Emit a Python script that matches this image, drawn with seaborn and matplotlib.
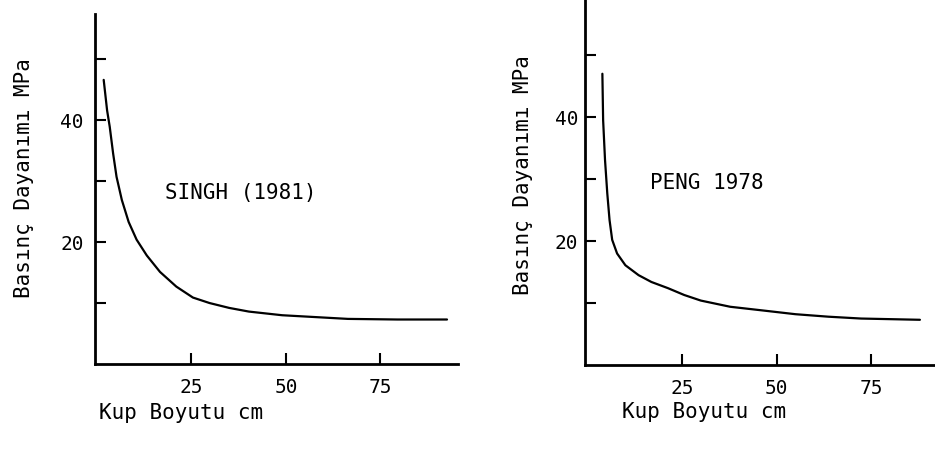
import seaborn as sns
import matplotlib.pyplot as plt
import pandas as pd

# values
singh_size = [1.8, 2.7, 3.4, 4.3, 5.2, 6.6, 8.4, 10.5, 13.2, 16.7, 21.0, 25.4,
              29.8, 35.0, 40.2, 49.0, 57.7, 66.4, 79.5, 92.6]
singh_mpa = [46.6, 41.6, 38.9, 34.5, 30.7, 26.9, 23.3, 20.4, 17.8, 15.1, 12.7, 10.9,
             10.0, 9.2, 8.6, 8.0, 7.7, 7.4, 7.3, 7.3]

peng_size = [3.8, 4.0, 4.5, 5.1, 5.7, 6.4, 7.7, 9.9, 13.4, 16.8, 21.2, 25.5,
             29.9, 37.7, 46.4, 55.0, 63.7, 72.4, 88.0]
peng_mpa = [47.0, 39.5, 33.1, 27.7, 23.4, 20.2, 18.0, 16.1, 14.5, 13.4, 12.4, 11.3,
            10.4, 9.4, 8.8, 8.2, 7.8, 7.5, 7.3]

x_ticks = [25, 50, 75]
y_ticks = [10, 20, 30, 40, 50]
y_labels = ["", "20", "", "40", ""]

sns.set_style("ticks")
plt.rcParams["font.family"] = ["DejaVu Sans Mono"]
plt.rcParams["text.color"] = "black"
plt.rcParams["axes.labelcolor"] = "black"

fig = plt.figure(figsize=(9.35, 4.58), dpi=100)
ax1 = fig.add_axes([0.1016, 0.2052, 0.3882, 0.7642])
ax2 = fig.add_axes([0.6257, 0.203, 0.3743, 0.797])

panels = [
    (ax1, singh_size, singh_mpa, "SINGH (1981)", (18, 28), (-0.5, 95.5), (0, 57.4), 8),
    (ax2, peng_size, peng_mpa, "PENG 1978", (16.5, 29.4), (-0.8, 92), (0, 58.9), 5),
]

for ax, xs, ys, name, pos, xl, yl, ypad in panels:
    df = pd.DataFrame({"size": xs, "mpa": ys})
    sns.lineplot(data=df, x="size", y="mpa", ax=ax, color="black", linewidth=1.6)
    ax.set_xlim(*xl)
    ax.set_ylim(*yl)
    ax.set_xticks(x_ticks)
    ax.set_yticks(y_ticks)
    ax.set_yticklabels(y_labels)
    ax.tick_params(direction="in", length=8, width=1.5, labelsize=14, colors="black", pad=10)
    ax.tick_params(axis="y", pad=ypad)
    for side in ["top", "right"]:
        ax.spines[side].set_visible(False)
    for side in ["left", "bottom"]:
        ax.spines[side].set_linewidth(2)
        ax.spines[side].set_color("black")
    ax.set_xlabel("Kup Boyutu cm", fontsize=15, loc="left")
    ax.set_ylabel("Basınç Dayanımı MPa", fontsize=15)
    ax.text(pos[0], pos[1], name, fontsize=15, va="center")

ax1.xaxis.set_label_coords(0.01, -0.11)
ax2.xaxis.set_label_coords(0.105, -0.10)
ax1.yaxis.set_label_coords(-0.168, 0.53)
ax2.yaxis.set_label_coords(-0.15, 0.52)

fig.savefig("out.png", dpi=100)
